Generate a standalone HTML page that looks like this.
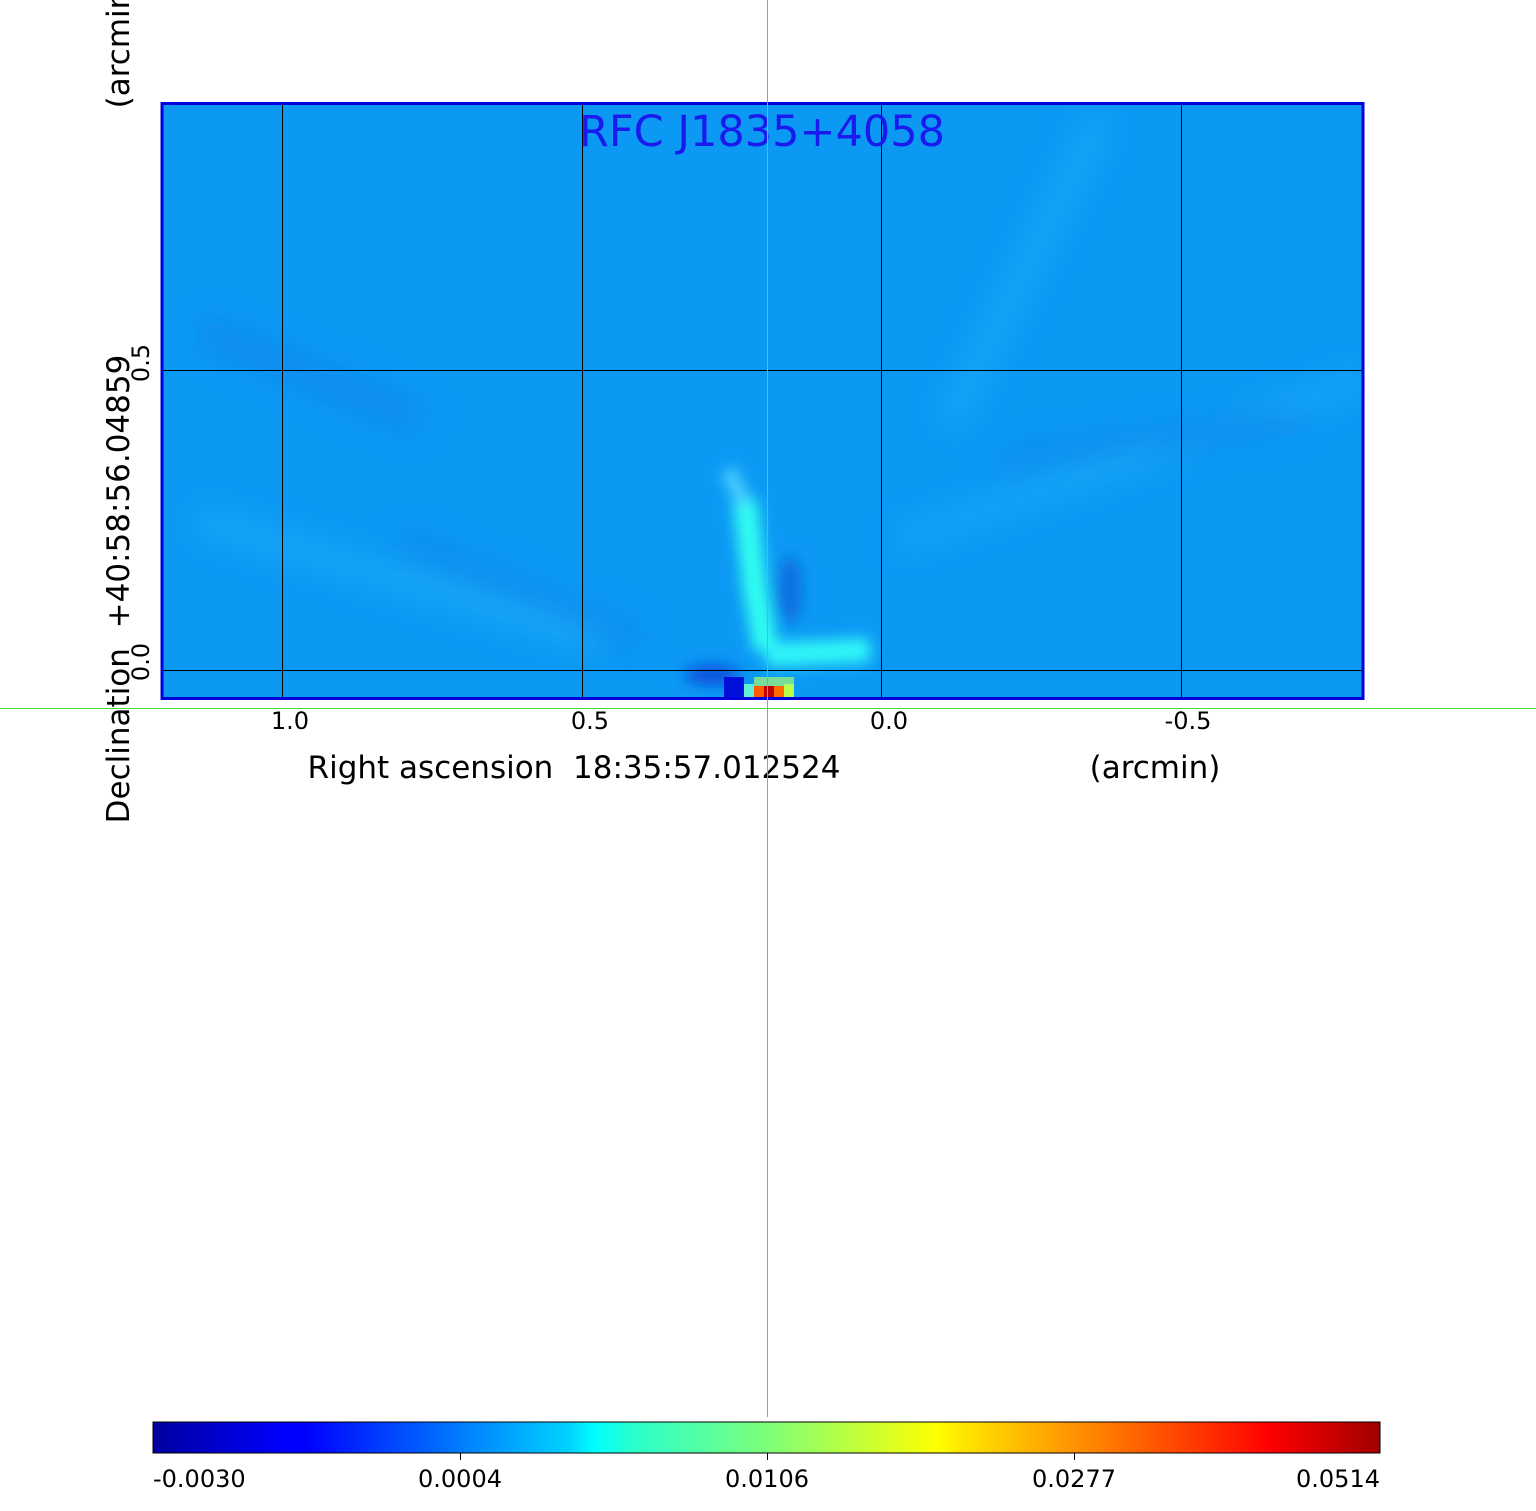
<!DOCTYPE html>
<html><head><meta charset="utf-8"><style>
html,body{margin:0;padding:0;background:#fff;}
svg{display:block;font-family:"DejaVu Sans","Liberation Sans",sans-serif;}
</style></head><body>
<svg width="1536" height="1511" viewBox="0 0 1536 1511" xmlns="http://www.w3.org/2000/svg">
<defs>
<linearGradient id="jet" x1="0" x2="1" y1="0" y2="0">
<stop offset="0" stop-color="#0000a0"/>
<stop offset="0.11" stop-color="#0000ff"/>
<stop offset="0.125" stop-color="#0000ff"/>
<stop offset="0.34" stop-color="#00d4ff"/>
<stop offset="0.36" stop-color="#00ffff"/>
<stop offset="0.39" stop-color="#29ffce"/>
<stop offset="0.5" stop-color="#7dff7a"/>
<stop offset="0.64" stop-color="#ffff00"/>
<stop offset="0.66" stop-color="#ffe600"/>
<stop offset="0.89" stop-color="#ff1300"/>
<stop offset="0.91" stop-color="#ff0000"/>
<stop offset="1" stop-color="#a00000"/>
</linearGradient>
<filter id="blur"><feGaussianBlur stdDeviation="7"/></filter>
<filter id="blur2"><feGaussianBlur stdDeviation="14"/></filter>
<clipPath id="cp"><rect x="162" y="104" width="1201" height="594"/></clipPath>
</defs>
<rect x="162" y="104" width="1201" height="594" fill="#0c99f4"/>
<g clip-path="url(#cp)">
  <g filter="url(#blur2)" opacity="0.5">
    <path d="M200 520 L600 640" stroke="#25b8fb" stroke-width="22"/>
    <path d="M900 540 L1363 380" stroke="#25b8fb" stroke-width="18"/>
    <path d="M950 420 L1100 120" stroke="#25b8fb" stroke-width="20"/>
    <path d="M400 540 L640 640" stroke="#0a7ee8" stroke-width="20"/>
    <path d="M200 330 L420 420" stroke="#0a80e8" stroke-width="30"/>
    <path d="M1000 460 L1300 420" stroke="#0a80e8" stroke-width="20"/>
  </g>
  <g filter="url(#blur)">
    <path d="M745 500 L755 590 L766 650" stroke="#30fff0" stroke-width="24" fill="none"/>
    <path d="M766 655 L870 650" stroke="#30f8f8" stroke-width="24" fill="none"/>
    <path d="M728 470 L745 505" stroke="#4fd6ff" stroke-width="14"/>
    <ellipse cx="790" cy="590" rx="12" ry="34" fill="#0a6fe0"/>
    <ellipse cx="712" cy="675" rx="28" ry="10" fill="#0750dc"/>
  </g>
  <rect x="724" y="677" width="20" height="21" fill="#0010d8"/>
  <rect x="744" y="684" width="10" height="14" fill="#5ff0d8"/>
  <rect x="754" y="686" width="10" height="12" fill="#ff5a00"/>
  <rect x="764" y="686" width="10" height="12" fill="#c00000"/>
  <rect x="774" y="686" width="10" height="12" fill="#ff6a00"/>
  <rect x="784" y="684" width="10" height="14" fill="#b8ff4a"/>
  <rect x="754" y="677" width="40" height="9" fill="#a8f870" opacity="0.7"/>
</g>
<g stroke="#000" stroke-width="1">
  <line x1="282.5" y1="104" x2="282.5" y2="698"/>
  <line x1="582.5" y1="104" x2="582.5" y2="698"/>
  <line x1="881.5" y1="104" x2="881.5" y2="698"/>
  <line x1="1181.5" y1="104" x2="1181.5" y2="698"/>
  <line x1="162" y1="370.5" x2="1363" y2="370.5"/>
  <line x1="162" y1="670.5" x2="1363" y2="670.5"/>
</g>
<rect x="162" y="103.5" width="1201" height="595" fill="none" stroke="#0000dd" stroke-width="3"/>
<text x="762" y="146" font-size="43" fill="#1a1aee" text-anchor="middle">RFC J1835+4058</text>
<g font-size="24" fill="#000" text-anchor="middle">
  <text x="290" y="729">1.0</text>
  <text x="590" y="729">0.5</text>
  <text x="889" y="729">0.0</text>
  <text x="1188" y="729">-0.5</text>
  <text x="574" y="778" font-size="31" xml:space="preserve">Right ascension  18:35:57.012524</text>
  <text x="1155" y="778" font-size="31">(arcmin)</text>
</g>
<g font-size="24" fill="#000" text-anchor="middle">
  <text transform="translate(149,363) rotate(-90)">0.5</text>
  <text transform="translate(149,662) rotate(-90)">0.0</text>
  <text transform="translate(129,589) rotate(-90)" font-size="31" xml:space="preserve">Declination  +40:58:56.04859</text>
  <text transform="translate(129,43) rotate(-90)" font-size="31">(arcmin)</text>
</g>
<rect x="153" y="1422" width="1227" height="31" fill="url(#jet)" stroke="#000" stroke-width="1"/>
<g stroke="#000"><line x1="460.5" y1="1453" x2="460.5" y2="1460"/><line x1="767.5" y1="1453" x2="767.5" y2="1460"/><line x1="1074.5" y1="1453" x2="1074.5" y2="1460"/></g>
<g font-size="24" fill="#000">
  <text x="153" y="1487">-0.0030</text>
  <text x="460" y="1487" text-anchor="middle">0.0004</text>
  <text x="767" y="1487" text-anchor="middle">0.0106</text>
  <text x="1074" y="1487" text-anchor="middle">0.0277</text>
  <text x="1380" y="1487" text-anchor="end">0.0514</text>
</g>
<rect x="767" y="0" width="1" height="1417" fill="#44dd44"/>
<rect x="0" y="708" width="1536" height="1" fill="#44dd44"/>
</svg>
</body></html>
